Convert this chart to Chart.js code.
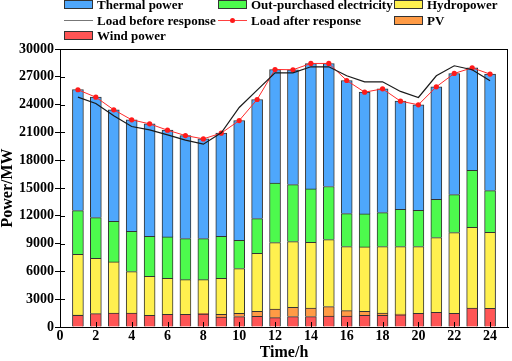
<!DOCTYPE html>
<html lang="en">
<head>
    <meta charset="UTF-8">
    <title>Power balance</title>
    <style>
        body { margin: 0; background: #fff; }
        #wrap { position: relative; width: 512px; height: 361px; }
        #legend { position: absolute; left: 0; top: 0; width: 512px; height: 44px;
                  font: bold 13px "Liberation Serif", serif; color: #000; }
        .item { position: absolute; height: 15px; line-height: 15px; white-space: nowrap; }
        .sw { position: absolute; left: 0; top: 3px; width: 27px; height: 7px; border: 1px solid #333; }
        .ln { position: absolute; left: 0; top: 7px; width: 29px; height: 0; }
        .dot { position: absolute; left: 12px; top: -3px; width: 5px; height: 5px; border-radius: 50%; background: #ff1a1a; }
        .lab { position: absolute; left: 33px; top: 0; }
    </style>
</head>
<body>
<div id="wrap">
    <canvas id="c" width="512" height="361"></canvas>
    <div id="legend"></div>
</div>
<script src="https://cdn.jsdelivr.net/npm/chart.js"></script>
<script>
    // hours 1..24
    const hours = [1,2,3,4,5,6,7,8,9,10,11,12,13,14,15,16,17,18,19,20,21,22,23,24];
    // stacked generation (MW)
    const windPower = [1260,1440,1510,1510,1260,1370,1370,1400,1080,1120,1150,1010,1120,1120,1190,1190,1260,1260,1300,1480,1580,1480,2050,2020];
    const pvPower = [30,0,0,0,0,0,0,80,290,360,540,930,1000,930,1010,570,430,250,100,0,0,0,0,0];
    const hydroPower = [6550,5980,5510,4470,4210,3890,3740,3630,3890,4820,6270,7170,7100,7090,7230,6920,6950,7170,7280,7200,8070,8710,8710,8200];
    const outPurchased = [4720,4390,4390,4350,4320,4460,4430,4430,4530,3060,3740,6410,6150,5760,5730,3560,3560,3670,4030,3920,4140,4100,6160,4500];
    const thermalPower = [13070,12990,12030,12030,12130,11520,11120,10760,11130,12920,12850,12270,12390,13540,13280,14360,13140,13350,11660,11380,12130,13070,11050,12570];
    // load curves (MW)
    const loadBefore = [24800,24120,22790,21640,21280,20740,20160,19730,20950,23690,25560,27430,27430,28080,28080,27110,26460,26460,25420,24770,27110,28190,27760,26570];
    const loadAfter = [25600,24800,23440,22360,21920,21240,20660,20300,20920,22280,24550,27790,27760,28440,28440,26600,25340,25700,24370,23980,25920,27360,27970,27290];

    const xy = arr => arr.map((v, i) => ({ x: hours[i], y: v }));
    const font = { family: "'Liberation Serif', 'Times New Roman', serif", weight: 'bold', size: 14, lineHeight: 1 };
    const titleFont = { family: "'Liberation Serif', 'Times New Roman', serif", weight: 'bold', size: 16, lineHeight: 1 };

    const bar = (label, data, color) => ({
        type: 'bar', label, data: xy(data), backgroundColor: color,
        borderColor: '#333', borderWidth: 1, barThickness: 11, stack: 'gen', order: 1
    });

    const datasets = [
        bar('Wind power', windPower, '#ff5555'),
        bar('PV', pvPower, '#ff9b45'),
        bar('Hydropower', hydroPower, '#fff04f'),
        bar('Out-purchased electricity', outPurchased, '#4dfa4d'),
        bar('Thermal power', thermalPower, '#4ea7fc'),
        { type: 'line', label: 'Load before response', data: xy(loadBefore), borderColor: '#1a1a1a',
          borderWidth: 1.2, pointRadius: 0, stack: 'before', order: 0 },
        { type: 'line', label: 'Load after response', data: xy(loadAfter), borderColor: '#ff2a2a',
          borderWidth: 1, pointRadius: 2.6, pointBackgroundColor: '#ff1a1a', pointBorderWidth: 0,
          stack: 'after', order: 0 }
    ];

    // frame around the plot plus inward ticks
    const frame = {
        id: 'frame',
        afterDraw(chart) {
            const { ctx, chartArea: a, scales } = chart;
            ctx.save();
            ctx.strokeStyle = '#000';
            ctx.lineWidth = 1;
            ctx.strokeRect(a.left + 0.5, a.top + 0.5, a.right - a.left - 1, a.bottom - a.top);
            ctx.beginPath();
            for (let h = 2; h <= 24; h += 2) {
                const x = Math.round(scales.x.getPixelForValue(h)) + 0.5;
                ctx.moveTo(x, a.bottom);
                ctx.lineTo(x, a.bottom - 5);
            }
            for (let v = 3000; v < 30000; v += 3000) {
                const y = Math.round(scales.y.getPixelForValue(v)) + 0.5;
                ctx.moveTo(a.left, y);
                ctx.lineTo(a.left + 5, y);
            }
            ctx.stroke();
            ctx.restore();
        }
    };

    new Chart(document.getElementById('c'), {
        data: { datasets },
        options: {
            responsive: false,
            animation: false,
            layout: { padding: { top: 49, right: 1, left: 0, bottom: 0 } },
            plugins: { legend: { display: false }, tooltip: { enabled: false } },
            scales: {
                x: {
                    type: 'linear', min: 0, max: 25, stacked: true, offset: false,
                    grid: { display: false, drawTicks: false, offset: false },
                    border: { display: true, color: '#000', width: 1 },
                    ticks: { stepSize: 2, includeBounds: false, color: '#000', font, padding: 2, maxRotation: 0,
                             callback: v => String(v) },
                    title: { display: true, text: 'Time/h', color: '#000', font: titleFont, padding: { top: 0, bottom: 0 } }
                },
                y: {
                    min: 0, max: 30000, stacked: true,
                    grid: { drawOnChartArea: false, drawTicks: true, tickLength: 5, color: '#000' },
                    border: { display: true, color: '#000', width: 1 },
                    ticks: { stepSize: 3000, color: '#000', font, padding: 1, callback: v => String(v) },
                    title: { display: true, text: 'Power/MW', color: '#000', font: titleFont, padding: { top: 0, bottom: 2 } }
                }
            }
        },
        plugins: [frame]
    });

    // legend laid out in three columns like the original
    const legendItems = [
        { label: 'Thermal power', color: '#4ea7fc', col: 0, row: 0 },
        { label: 'Out-purchased electricity', color: '#4dfa4d', col: 1, row: 0 },
        { label: 'Hydropower', color: '#fff04f', col: 2, row: 0 },
        { label: 'Load before response', line: '#777', col: 0, row: 1 },
        { label: 'Load after response', line: '#ff4040', dot: true, col: 1, row: 1 },
        { label: 'PV', color: '#ff9b45', col: 2, row: 1 },
        { label: 'Wind power', color: '#ff5555', col: 0, row: 2 }
    ];
    const colX = [64, 218, 394];
    const legend = document.getElementById('legend');
    legendItems.forEach(it => {
        const d = document.createElement('div');
        d.className = 'item';
        d.style.left = colX[it.col] + 'px';
        d.style.top = (-3 + it.row * 15.7) + 'px';
        let sw;
        if (it.line) {
            sw = '<div class="ln" style="border-top:1.5px solid ' + it.line + '">' + (it.dot ? '<div class="dot"></div>' : '') + '</div>';
        } else {
            sw = '<div class="sw" style="background:' + it.color + '"></div>';
        }
        d.innerHTML = sw + '<span class="lab">' + it.label + '</span>';
        legend.appendChild(d);
    });
</script>
</body>
</html>
